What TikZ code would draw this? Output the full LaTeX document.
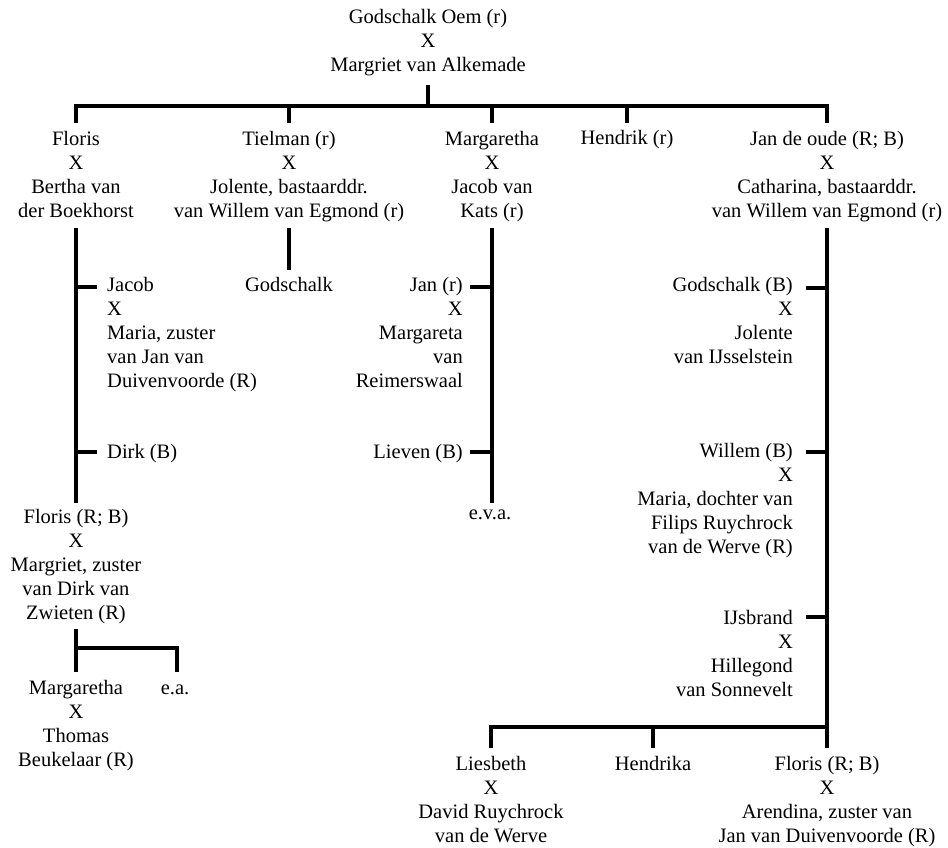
\documentclass[tikz,border=0pt]{standalone}
\usepackage{fontspec}
\setmainfont{Liberation Serif}
\begin{document}
\begin{tikzpicture}[x=1pt,y=-1pt,
  every node/.style={inner sep=0pt, font=\fontsize{20.5}{24}\selectfont},
  ln/.style={line width=4pt, line join=miter},
  cn/.style={align=center, anchor=base},
  lt/.style={align=left, anchor=base west},
  rt/.style={align=right, anchor=base east}]
\useasboundingbox (0,0) rectangle (948,848);
% nodes are placed by the baseline of their LAST line

% generation 1
\node[cn] (root) at (428,72) {Godschalk Oem (r)\\X\\Margriet van Alkemade};
\node[cn] (floris) at (76,217) {Floris\\X\\Bertha van\\der Boekhorst};
\node[cn] (tielman) at (289,217) {Tielman (r)\\X\\Jolente, bastaarddr.\\van Willem van Egmond (r)};
\node[cn] (margaretha) at (492,217) {Margaretha\\X\\Jacob van\\Kats (r)};
\node[cn] (hendrik) at (627,145) {Hendrik (r)};
\node[cn] (jan) at (827,217) {Jan de oude (R; B)\\X\\Catharina, bastaarddr.\\van Willem van Egmond (r)};

\coordinate (r0) at (428,85);  \coordinate (r1) at (428,106);
\coordinate (f0) at (76,106);  \coordinate (f1) at (76,123);
\coordinate (t0) at (289,106); \coordinate (t1) at (289,123);
\coordinate (m0) at (492,106); \coordinate (m1) at (492,123);
\coordinate (h0) at (627,106); \coordinate (h1) at (627,123);
\coordinate (j0) at (827,106); \coordinate (j1) at (827,123);
\draw[ln] (r0) -- (r1);
\draw[ln] (f1) -- (f0) -- (j0) -- (j1);
\draw[ln] (t0) -- (t1);
\draw[ln] (m0) -- (m1);
\draw[ln] (h0) -- (h1);

% Floris branch
\node[lt] (jacob) at (107,387) {Jacob\\X\\Maria, zuster\\van Jan van\\Duivenvoorde (R)};
\node[lt] (dirk) at (107,458) {Dirk (B)};
\node[cn] (floris2) at (76,619) {Floris (R; B)\\X\\Margriet, zuster\\van Dirk van\\Zwieten (R)};
\coordinate (fa) at (76,228); \coordinate (fb) at (76,503);
\coordinate (fj) at (76,287); \coordinate (fj1) at (97,287);
\coordinate (fd) at (76,452); \coordinate (fd1) at (97,452);
\draw[ln] (fa) -- (fb);
\draw[ln] (fj) -- (fj1);
\draw[ln] (fd) -- (fd1);

\node[cn] (margaretha2) at (76,766) {Margaretha\\X\\Thomas\\Beukelaar (R)};
\node[cn] (ea) at (175,694) {e.a.};
\coordinate (ga) at (76,629); \coordinate (gb) at (76,672);
\coordinate (gh) at (76,648); \coordinate (gk) at (177,648); \coordinate (gl) at (177,672);
\draw[ln] (ga) -- (gb);
\draw[ln] (gh) -- (gk) -- (gl);

% Tielman branch
\node[cn] (godschalk) at (289,291) {Godschalk};
\coordinate (ta) at (289,228); \coordinate (tb) at (289,270);
\draw[ln] (ta) -- (tb);

% Margaretha branch
\node[rt] (jan2) at (463,387) {Jan (r)\\X\\Margareta\\van\\Reimerswaal};
\node[rt] (lieven) at (463,458) {Lieven (B)};
\node[cn] (eva) at (490,519) {e.v.a.};
\coordinate (ma) at (492,228); \coordinate (mb) at (492,503);
\coordinate (mj) at (492,287); \coordinate (mj1) at (470,287);
\coordinate (ml) at (492,452); \coordinate (ml1) at (470,452);
\draw[ln] (ma) -- (mb);
\draw[ln] (mj) -- (mj1);
\draw[ln] (ml) -- (ml1);

% Jan de oude branch
\node[rt] (godschalkb) at (793,363) {Godschalk (B)\\X\\Jolente\\van IJsselstein};
\node[rt] (willem) at (793,553) {Willem (B)\\X\\Maria, dochter van\\Filips Ruychrock\\van de Werve (R)};
\node[rt] (ijsbrand) at (793,696) {IJsbrand\\X\\Hillegond\\van Sonnevelt};
\coordinate (ja) at (827,228); \coordinate (jb) at (827,748);
\coordinate (jg) at (827,288); \coordinate (jg1) at (806,288);
\coordinate (jw) at (827,452); \coordinate (jw1) at (806,452);
\coordinate (ji) at (827,617); \coordinate (ji1) at (806,617);
\draw[ln] (ja) -- (jb);
\draw[ln] (jg) -- (jg1);
\draw[ln] (jw) -- (jw1);
\draw[ln] (ji) -- (ji1);

\node[cn] (liesbeth) at (491,842) {Liesbeth\\X\\David Ruychrock\\van de Werve};
\node[cn] (hendrika) at (653,770) {Hendrika};
\node[cn] (floris3) at (827,842) {Floris (R; B)\\X\\Arendina, zuster van\\Jan van Duivenvoorde (R)};
\coordinate (ka) at (491,748); \coordinate (kb) at (491,727); \coordinate (kc) at (827,727);
\coordinate (kd) at (653,727); \coordinate (ke) at (653,748);
\draw[ln] (ka) -- (kb) -- (kc);
\draw[ln] (kd) -- (ke);
\end{tikzpicture}
\end{document}
